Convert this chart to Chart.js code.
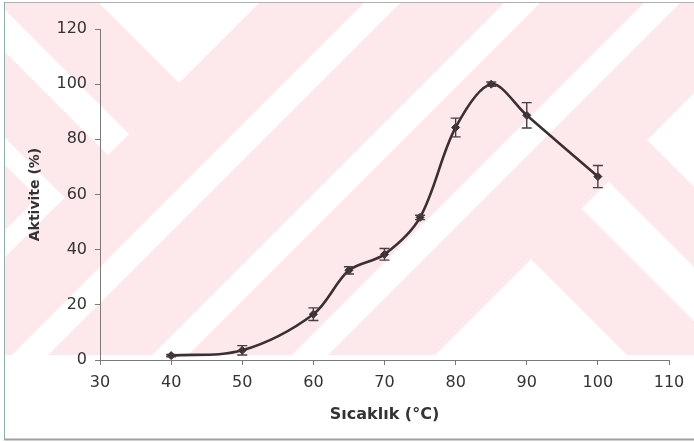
<!DOCTYPE html>
<html>
<head>
<meta charset="utf-8">
<script src="https://cdn.jsdelivr.net/npm/chart.js@4.4.0/dist/chart.umd.min.js"></script>
<style>
html, body { margin: 0; padding: 0; background: #fff; }
#wrap { position: relative; width: 694px; height: 442px; overflow: hidden; }
#bg, #chart { position: absolute; left: 0; top: 0; }
</style>
</head>
<body>
<div id="wrap">
  <!-- scanned page watermark + frame, background only -->
  <svg id="bg" width="694" height="442" xmlns="http://www.w3.org/2000/svg">
    <defs><clipPath id="wm"><rect x="5" y="3" width="689" height="352"/></clipPath></defs>
    <g clip-path="url(#wm)">
      <rect x="0" y="0" width="694" height="442" fill="#fde8eb"/>
      <g fill="#fff">
        <polygon points="367,0 403,0 0,403 0,367"/>
        <polygon points="507,0 543,0 0,543 0,507"/>
        <polygon points="647,0 683,0 0,683 0,647"/>
        <polygon points="96,0 179,83 262,0"/>
        <polygon points="0,5 129,134 108,155 0,47"/>
        <polygon points="0,133 64.5,197.5 51,211 0,160"/>
        <polygon points="0,235 51,184 64.5,197.5 0,262"/>
        <polygon points="430,360 531,259 632,360"/>
        <polygon points="581.5,208.5 608.5,181.5 700,273 700,327"/>
        <polygon points="647,140 700,87 700,193"/>
      </g>
    </g>
    <line x1="4" y1="2.5" x2="694" y2="2.5" stroke="#b0b0b0" stroke-width="1"/>
    <line x1="4.5" y1="2" x2="4.5" y2="440" stroke="#8fb0b0" stroke-width="1"/>
    <line x1="4" y1="439.5" x2="694" y2="439.5" stroke="#a0a0a0" stroke-width="2"/>
  </svg>
  <canvas id="chart" width="694" height="442"></canvas>
</div>
<script>
const temps = [40, 50, 60, 65, 70, 75, 80, 85, 90, 100];
const activity = [1.6, 3.5, 16.6, 32.5, 38.3, 51.7, 84.3, 100, 88.7, 66.5];
const errors = [0.4, 1.7, 2.3, 1.3, 2.1, 0.8, 3.4, 0.8, 4.6, 4.0];
const xTicks = [30, 40, 50, 60, 70, 80, 90, 100, 110];
const yTicks = [0, 20, 40, 60, 80, 100, 120];

const lineColor = '#3a2f32';
const axisColor = '#7a7a7a';
const textColor = '#333333';

// draws the +/- bars from the error array through the chart scales
const errorBars = {
    id: 'errorBars',
    afterDatasetsDraw(chart) {
        const { ctx, scales: { x, y } } = chart;
        ctx.save();
        ctx.strokeStyle = '#463e40';
        ctx.lineWidth = 1.4;
        temps.forEach((t, i) => {
            const px = x.getPixelForValue(t);
            const top = y.getPixelForValue(activity[i] + errors[i]);
            const bot = y.getPixelForValue(activity[i] - errors[i]);
            ctx.beginPath();
            ctx.moveTo(px, top);
            ctx.lineTo(px, bot);
            ctx.moveTo(px - 5, top);
            ctx.lineTo(px + 5, top);
            ctx.moveTo(px - 5, bot);
            ctx.lineTo(px + 5, bot);
            ctx.stroke();
        });
        ctx.restore();
    }
};

new Chart(document.getElementById('chart'), {
    type: 'line',
    data: {
        datasets: [{
            data: temps.map((t, i) => ({ x: t, y: activity[i] })),
            borderColor: lineColor,
            borderWidth: 2.6,
            tension: 0.33,
            fill: false,
            pointStyle: 'rectRot',
            pointRadius: 4,
            pointBackgroundColor: lineColor,
            pointBorderColor: lineColor,
            pointBorderWidth: 1
        }]
    },
    options: {
        responsive: false,
        animation: false,
        devicePixelRatio: 1,
        layout: { padding: { left: 0, top: 29, right: 25, bottom: 0 } },
        plugins: {
            legend: { display: false },
            tooltip: { enabled: false }
        },
        scales: {
            x: {
                type: 'linear',
                min: 30,
                max: 110,
                afterBuildTicks: (s) => { s.ticks = xTicks.map(v => ({ value: v })); },
                afterFit: (s) => { s.height = 82; },
                grid: { drawOnChartArea: false, tickLength: 5, color: axisColor },
                border: { color: axisColor, width: 1 },
                ticks: {
                    padding: 8,
                    color: textColor,
                    maxRotation: 0,
                    autoSkip: false,
                    font: { family: 'DejaVu Sans', size: 16 }
                },
                title: {
                    display: true,
                    text: 'Sıcaklık (°C)',
                    color: textColor,
                    font: { family: 'DejaVu Sans', size: 16, weight: 'bold' },
                    padding: { top: 0, bottom: 18 }
                }
            },
            y: {
                min: 0,
                max: 120,
                afterBuildTicks: (s) => { s.ticks = yTicks.map(v => ({ value: v })); },
                afterFit: (s) => { s.width = 100; },
                grid: { drawOnChartArea: false, tickLength: 5, color: axisColor },
                border: { color: axisColor, width: 1 },
                ticks: {
                    padding: 8,
                    color: textColor,
                    font: { family: 'DejaVu Sans', size: 16 }
                },
                title: {
                    display: true,
                    text: 'Aktivite (%)',
                    color: textColor,
                    font: { family: 'DejaVu Sans', size: 14, weight: 'bold' },
                    padding: { top: 27, bottom: 0 }
                }
            }
        }
    },
    plugins: [errorBars]
});
</script>
</body>
</html>
